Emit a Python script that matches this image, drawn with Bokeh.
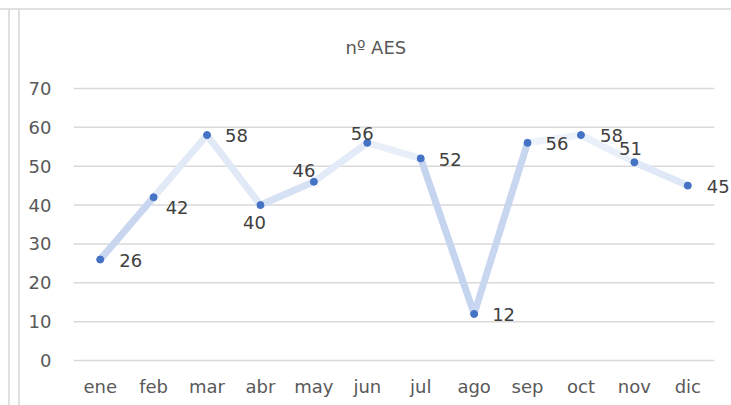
from bokeh.plotting import figure
from bokeh.models import Range1d, FixedTicker, ColumnDataSource
from bokeh.core.properties import value
from bokeh.embed import file_html
from bokeh.resources import INLINE

months = ["ene", "feb", "mar", "abr", "may", "jun", "jul", "ago", "sep", "oct", "nov", "dic"]
aes = [26, 42, 58, 40, 46, 56, 52, 12, 56, 58, 51, 45]
y_ticks = [0, 10, 20, 30, 40, 50, 60, 70]
title_text = "nº AES"

# label placement (style only)
lab_dx = [19, 12, 18, -6, -10, -5, 18, 18, 18, 19, -4, 19]
lab_dy = [1, 10, 0, 17, -11, -9, 1, 1, 1, 0, -14, 1]
lab_align = ["left", "left", "left", "center", "center", "center", "left", "left", "left", "left", "center", "left"]

FONT = "DejaVu Sans"
W, H = 731, 405

# category positions 1..12 (category slots span 0.5..12.5)
xs = list(range(1, len(months) + 1))
x_lo, x_hi = 0.5, len(months) + 0.5
unit = (714 - 73) / len(months)          # px per category on screen
x_end = x_hi + (W - 714) / unit          # room to the right for the last label

p = figure(width=W, height=H, x_range=Range1d(x_lo, x_end), y_range=Range1d(-1, 71),
           output_backend="svg", toolbar_location=None,
           min_border_left=73, min_border_right=0, min_border_top=84, min_border_bottom=41)
p.outline_line_color = None
p.background_fill_color = "white"
p.border_fill_color = None
line = "linear-gradient(#e0e0e0, #e0e0e0)"
p.styles = {
    "background": (f"{line} 0px 8px / 100% 2px no-repeat, "
                   f"{line} 8px 9px / 2px 100% no-repeat, "
                   f"{line} 18px 9px / 2px 100% no-repeat, white")
}

p.title.text = title_text
p.title.align = "left"
p.title.offset = 272
p.title.standoff = 54
p.title.text_font = FONT
p.title.text_font_size = "18px"
p.title.text_font_style = "normal"
p.title.text_color = "#595959"

p.xgrid.grid_line_color = None
p.ygrid.grid_line_color = None
p.yaxis.ticker = FixedTicker(ticks=y_ticks)
p.xaxis.ticker = FixedTicker(ticks=xs)
p.xaxis.major_label_overrides = {x: m for x, m in zip(xs, months)}
for ax in (p.xaxis, p.yaxis):
    ax.axis_line_color = None
    ax.major_tick_line_color = None
    ax.minor_tick_line_color = None
    ax.major_label_text_font = FONT
    ax.major_label_text_font_size = "18px"
    ax.major_label_text_color = "#595959"
p.yaxis.major_label_standoff = 16
p.xaxis.major_label_standoff = 5

# horizontal gridlines over the category span only
p.segment(x0=[x_lo] * len(y_ticks), y0=y_ticks, x1=[x_hi] * len(y_ticks), y1=y_ticks,
          line_color="#d9d9d9", line_width=1.5)

# segments coloured by height (lighter when higher)
def seg_color(v):
    t = max(0.0, min(1.0, (v - 10) / 48))
    lo = (160, 184, 228)
    hi = (240, 244, 251)
    c = [round(lo[i] + (hi[i] - lo[i]) * t) for i in range(3)]
    return "#%02x%02x%02x" % tuple(c)

seg_src = ColumnDataSource(dict(
    x0=xs[:-1], y0=aes[:-1], x1=xs[1:], y1=aes[1:],
    color=[seg_color((a + b) / 2) for a, b in zip(aes[:-1], aes[1:])]))
p.segment(x0="x0", y0="y0", x1="x1", y1="y1", source=seg_src, line_color="color",
          line_width=7, line_cap="round")

p.scatter(xs, aes, size=7, color="#4472C4")

txt_src = ColumnDataSource(dict(x=xs, y=aes, t=[str(v) for v in aes],
                                dx=lab_dx, dy=lab_dy, al=lab_align))
p.text(x="x", y="y", text="t", source=txt_src, x_offset="dx", y_offset="dy",
       text_align="al", text_baseline="middle", text_font=value(FONT),
       text_font_size="18px", text_color="#404040")

open("out.html", "w").write(file_html(p, INLINE))
